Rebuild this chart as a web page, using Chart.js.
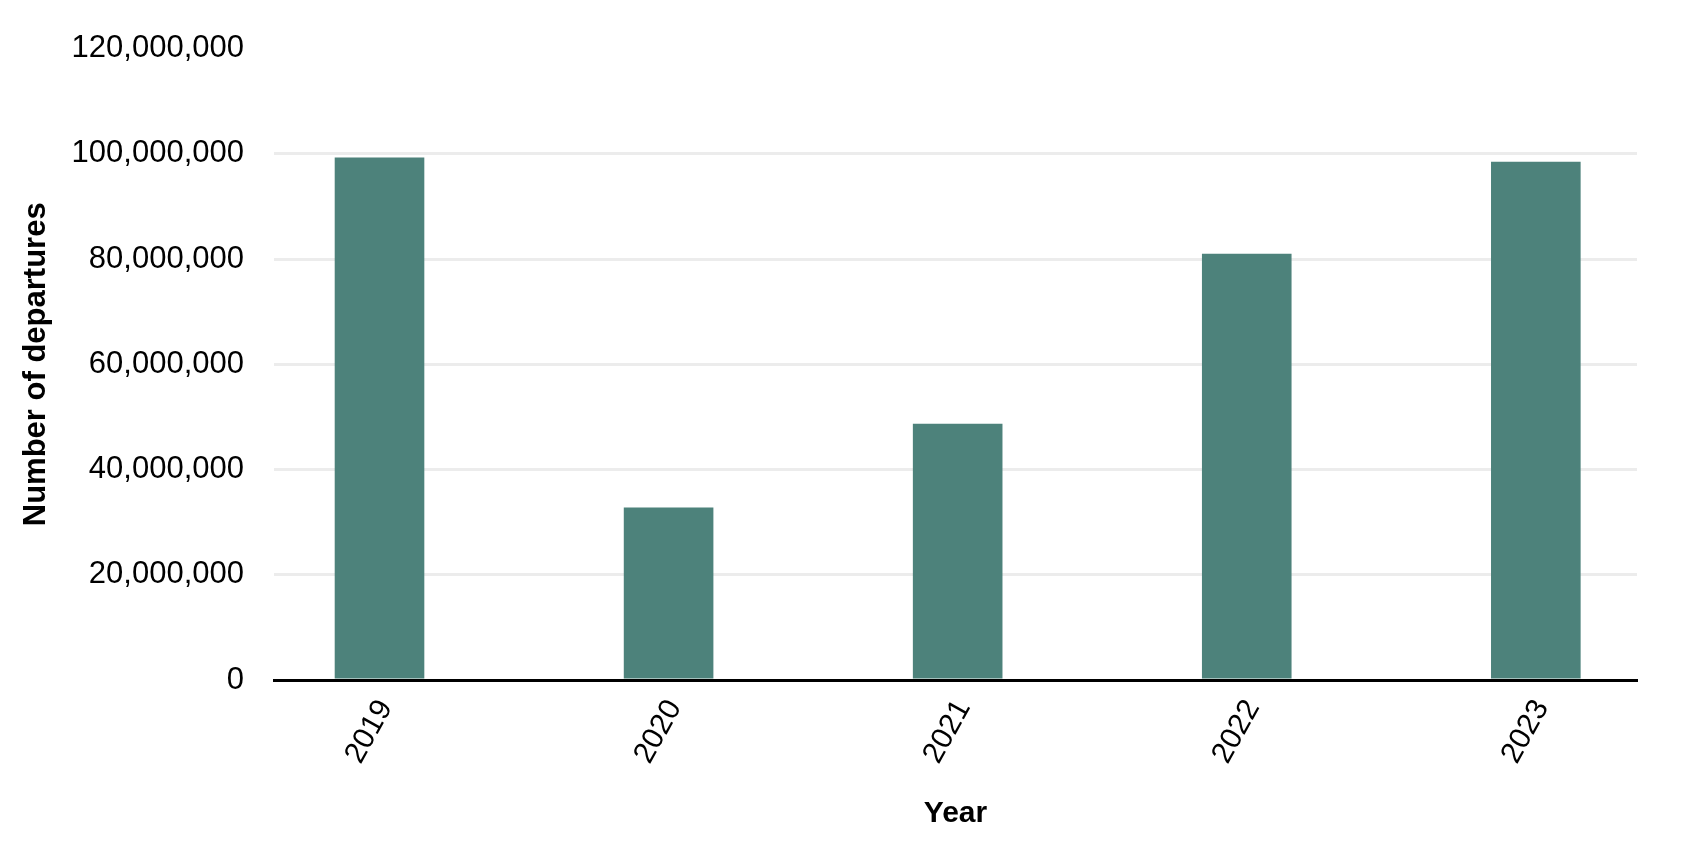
<!DOCTYPE html>
<html>
<head>
<meta charset="utf-8">
<script src="https://cdn.jsdelivr.net/npm/chart.js@4/dist/chart.umd.min.js"></script>
<style>
    html, body { margin: 0; padding: 0; background: #fff; }
    #wrap { width: 1700px; height: 855px; position: relative; }
</style>
</head>
<body>
<div id="wrap"><canvas id="chart"></canvas></div>
<script>
// Values
const years = [2019, 2020, 2021, 2022, 2023];
const departures = [99300000, 32800000, 48700000, 81000000, 98500000];
const yTicks = [0, 20000000, 40000000, 60000000, 80000000, 100000000, 120000000];

const barColor = '#4d827b';
const gridColor = '#ececec';
const fontFamily = '"Liberation Sans", Arial, sans-serif';

const points = years.map((y, i) => ({ x: y, y: departures[i] }));

new Chart(document.getElementById('chart').getContext('2d'), {
    type: 'bar',
    data: {
        datasets: [{
            label: 'Number of departures',
            data: points,
            backgroundColor: barColor,
            borderWidth: 0,
            categoryPercentage: 1,
            barPercentage: 0.31
        }]
    },
    options: {
        responsive: true,
        maintainAspectRatio: false,
        devicePixelRatio: 1,
        animation: false,
        layout: { padding: { top: 47, right: 63, left: 0, bottom: 0 } },
        plugins: {
            legend: { display: false },
            tooltip: { enabled: false }
        },
        scales: {
            x: {
                type: 'linear',
                offset: false,
                min: 2018.635,
                max: 2023.35,
                afterBuildTicks: (scale) => { scale.ticks = years.map(v => ({ value: v })); },
                afterFit: (scale) => { scale.height = 175; },
                grid: { display: false, drawTicks: false, offset: false },
                border: { display: true, color: '#000', width: 3 },
                ticks: {
                    color: '#000',
                    font: { family: fontFamily, size: 30 },
                    minRotation: 61,
                    maxRotation: 61,
                    padding: 14,
                    labelOffset: 6,
                    callback: (v) => String(v)
                },
                title: {
                    display: true,
                    text: 'Year',
                    color: '#000',
                    font: { family: fontFamily, size: 30, weight: 'bold' },
                    padding: { top: 23, bottom: 23 }
                }
            },
            y: {
                min: 0,
                max: 120000000,
                afterBuildTicks: (scale) => { scale.ticks = yTicks.map(v => ({ value: v })); },
                afterFit: (scale) => { scale.width = 274; },
                border: { display: false },
                grid: {
                    drawTicks: false,
                    lineWidth: 3,
                    color: (ctx) => (ctx.tick && (ctx.tick.value === 0 || ctx.tick.value === 120000000)) ? 'rgba(0,0,0,0)' : gridColor
                },
                ticks: {
                    color: '#000',
                    font: { family: fontFamily, size: 31 },
                    padding: 30,
                    callback: (v) => Number(v).toLocaleString('en-US')
                },
                title: {
                    display: true,
                    text: 'Number of departures',
                    color: '#000',
                    font: { family: fontFamily, size: 31, weight: 'bold' },
                    padding: { top: 18, bottom: 0 }
                }
            }
        }
    }
});
</script>
</body>
</html>
